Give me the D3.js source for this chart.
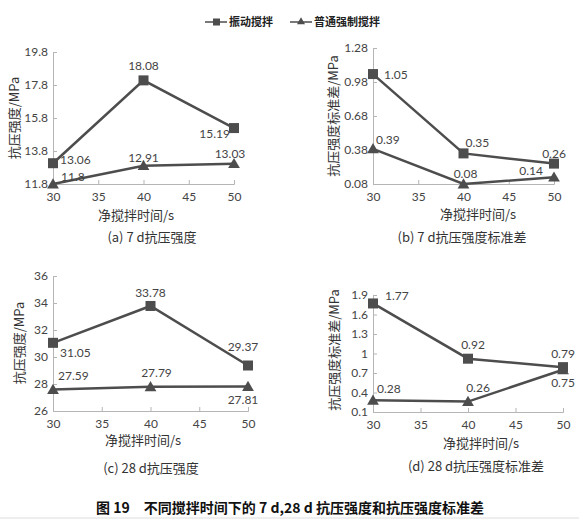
<!DOCTYPE html>
<html>
<head>
<meta charset="utf-8">
<script src="https://cdn.jsdelivr.net/npm/d3@7"></script>
<style>
  body { margin: 0; background: #fff; }
  svg { display: block; }
</style>
</head>
<body>
<svg width="579" height="519"></svg>
<script>
const xTimes = [30, 40, 50];
const xTicks = [30, 35, 40, 45, 50];
const seriesNames = ["振动搅拌", "普通强制搅拌"];

// 7 d strength and std dev
const str7Vib = [13.06, 18.08, 15.19];
const str7Norm = [11.8, 12.91, 13.03];
const sd7Vib = [1.05, 0.35, 0.26];
const sd7Norm = [0.39, 0.08, 0.14];
// 28 d strength and std dev
const str28Vib = [31.05, 33.78, 29.37];
const str28Norm = [27.59, 27.79, 27.81];
const sd28Vib = [1.77, 0.92, 0.79];
const sd28Norm = [0.28, 0.26, 0.75];

const yTicksA = [11.8, 13.8, 15.8, 17.8, 19.8];
const yTicksB = [0.08, 0.38, 0.68, 0.98, 1.28];
const yTicksC = [26, 28, 30, 32, 34, 36];
const yTicksD = [0.1, 0.4, 0.7, 1, 1.3, 1.6, 1.9];

const captions = ["(a) 7 d抗压强度", "(b) 7 d抗压强度标准差", "(c) 28 d抗压强度", "(d) 28 d抗压强度标准差"];
const yTitles = ["抗压强度/MPa", "抗压强度标准差/MPa", "抗压强度/MPa", "抗压强度标准差/MPa"];
const xTitle = "净搅拌时间/s";
const figTitle = "图 19　不同搅拌时间下的 7 d,28 d 抗压强度和抗压强度标准差";

const svg = d3.select("svg");
const lineColor = "#4d4d4d";
const axisColor = "#b5b5b5";
const cjk = "'Noto Sans CJK SC', 'Noto Sans', sans-serif";
const num = "Lato, 'Open Sans', sans-serif";

// layout of the four panels (pixel boxes) and label offsets [dx, dy, anchor]
const panels = [
    { box: [53, 234, 52, 184], ticks: yTicksA, vib: str7Vib, norm: str7Norm,
      xt: [136, 220], cap: [152, 242], yt: [14, 118],
      vibLab: [[7, 1, "start"], [0, -10, "middle"], [-4, 10, "end"]],
      normLab: [[8, -3, "start"], [0, -4, "middle"], [-4, -6, "middle"]] },
    { box: [373, 554, 48, 184], ticks: yTicksB, vib: sd7Vib, norm: sd7Norm,
      xt: [478, 219], cap: [462, 242], yt: [333, 116],
      vibLab: [[11, 5, "start"], [2, -6, "start"], [0, -6, "middle"]],
      normLab: [[3, -5, "start"], [2, -6, "middle"], [-11, -2, "end"]] },
    { box: [53, 248, 276, 411], ticks: yTicksC, vib: str28Vib, norm: str28Norm,
      xt: [143, 445], cap: [151, 473], yt: [19, 343],
      vibLab: [[7, 14, "start"], [0, -9, "middle"], [-5, -15, "middle"]],
      normLab: [[5, -10, "start"], [6, -10, "middle"], [-5, 17, "middle"]] },
    { box: [373, 563, 295, 412], ticks: yTicksD, vib: sd28Vib, norm: sd28Norm,
      xt: [481, 448], cap: [476, 471], yt: [334, 350],
      vibLab: [[12, -3, "start"], [5, -10, "middle"], [0, -9, "middle"]],
      normLab: [[4, -7, "start"], [10, -10, "middle"], [0, 17, "middle"]] }
];

const tri = d3.symbol().type(d3.symbolTriangle).size(60);

function drawMarker(g, kind, x, y) {
    if (kind === "sq") {
        g.append("rect").attr("x", x - 5).attr("y", y - 5)
            .attr("width", 10).attr("height", 10).attr("fill", lineColor);
    } else {
        g.append("path").attr("d", tri)
            .attr("transform", `translate(${x},${y + 1})`).attr("fill", lineColor);
    }
}

panels.forEach((p, i) => {
    const [x0, x1, y0, y1] = p.box;
    const ticks = p.ticks;
    const x = d3.scaleLinear().domain([30, 50]).range([x0, x1]);
    const y = d3.scaleLinear().domain([ticks[0], ticks[ticks.length - 1]]).range([y1, y0]);
    const g = svg.append("g");

    const ya = g.append("g").attr("transform", `translate(${x0},0)`)
        .call(d3.axisLeft(y).tickValues(ticks).tickFormat(d => String(d)).tickSize(-4).tickPadding(5));
    const xa = g.append("g").attr("transform", `translate(0,${y1})`)
        .call(d3.axisBottom(x).tickValues(xTicks).tickSize(-4).tickPadding(8));
    [ya, xa].forEach(a => {
        a.selectAll("path, line").attr("stroke", axisColor);
        a.selectAll("text").attr("fill", "#444").style("font-family", num).style("font-size", "12px");
    });

    const line = d3.line().x((d, k) => x(xTimes[k])).y(d => y(d));
    [["norm", "tri"], ["vib", "sq"]].forEach(([key, kind]) => {
        const vals = p[key];
        g.append("path").datum(vals).attr("d", line)
            .attr("fill", "none").attr("stroke", lineColor).attr("stroke-width", 2.5);
        vals.forEach((v, k) => drawMarker(g, kind, x(xTimes[k]), y(v)));
        const offs = p[key + "Lab"];
        vals.forEach((v, k) => {
            g.append("text").attr("x", x(xTimes[k]) + offs[k][0]).attr("y", y(v) + offs[k][1])
                .attr("text-anchor", offs[k][2]).attr("fill", "#444")
                .style("font-family", num).style("font-size", "12px").text(String(v));
        });
    });

    g.append("text").attr("x", p.xt[0]).attr("y", p.xt[1]).attr("text-anchor", "middle")
        .attr("fill", "#333").style("font-family", cjk).style("font-size", "13px").text(xTitle);
    g.append("text").attr("x", p.cap[0]).attr("y", p.cap[1]).attr("text-anchor", "middle")
        .attr("fill", "#333").style("font-family", cjk).style("font-size", "13px").text(captions[i]);
    g.append("text").attr("transform", `translate(${p.yt[0] + 5},${p.yt[1]}) rotate(-90)`)
        .attr("text-anchor", "middle").attr("fill", "#333")
        .style("font-family", cjk).style("font-size", "13px").text(yTitles[i]);
});

// legend
const leg = svg.append("g");
[[205, 22, "sq", 0], [290, 22, "tri", 1]].forEach(([lx, ly, kind, k]) => {
    leg.append("line").attr("x1", lx).attr("x2", lx + 22).attr("y1", ly).attr("y2", ly)
        .attr("stroke", lineColor).attr("stroke-width", 1.5);
    if (kind === "sq") {
        leg.append("rect").attr("x", lx + 8).attr("y", ly - 3.5).attr("width", 7).attr("height", 7).attr("fill", lineColor);
    } else {
        leg.append("path").attr("d", d3.symbol().type(d3.symbolTriangle).size(28))
            .attr("transform", `translate(${lx + 11},${ly})`).attr("fill", lineColor);
    }
    leg.append("text").attr("x", lx + 24).attr("y", ly + 4)
        .attr("fill", "#222").style("font-family", cjk).style("font-size", "11px")
        .style("font-weight", "bold").text(seriesNames[k]);
});

svg.append("text").attr("x", 290).attr("y", 513).attr("text-anchor", "middle")
    .attr("fill", "#111").style("font-family", cjk).style("font-size", "14px")
    .style("font-weight", "bold").text(figTitle);

// thin grey band at the bottom edge
svg.append("rect").attr("x", 0).attr("y", 517).attr("width", 579).attr("height", 2).attr("fill", "#eeeeee");
</script>
</body>
</html>
